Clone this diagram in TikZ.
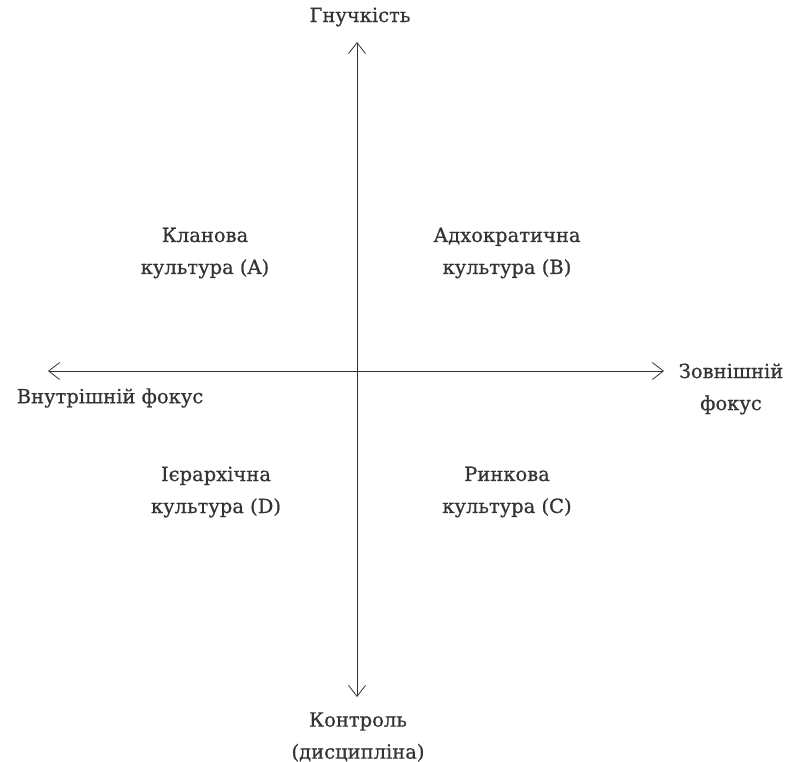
\documentclass[tikz,border=0pt]{standalone}
\usepackage{fontspec}
\setmainfont{DejaVu Serif}[UprightFeatures={FakeBold=0.7}]
\usetikzlibrary{positioning, arrows.meta}

\tikzset{
  axis/.style={draw=black!80, line width=0.8pt, {Straight Barb[length=11pt,width=17pt]}-{Straight Barb[length=11pt,width=17pt]}},
  label/.style={align=center, font=\fontsize{19.5}{32}\selectfont, text=black!80, inner sep=0pt}
}

\begin{document}
\begin{tikzpicture}[x=1pt, y=-1pt]
\useasboundingbox (0,0) rectangle (789,762);

% axis ends
\coordinate (top)    at (357,42);
\coordinate (bottom) at (357,697);
\coordinate (left)   at (48,371);
\coordinate (right)  at (664,371);

\draw[axis] (bottom) -- (top);
\draw[axis] (left) -- (right);

% axis labels
\node[label] (flex)  at (360,17)  {Гнучкість};
\node[label] (inner) at (110,398) {Внутрішній фокус};
\node[label] (outer) at (731,389) {Зовнішній\\фокус};
\node[label] (ctrl)  at (358,737) {Контроль\\(дисципліна)};

% quadrants
\node[label] (clan)  at (205,253) {Кланова\\культура (A)};
\node[label] (adhoc) at (507,253) {Адхократична\\культура (B)};
\node[label] (hier)  at (216,492) {Ієрархічна\\культура (D)};
\node[label] (mark)  at (507,492) {Ринкова\\культура (C)};
\end{tikzpicture}
\end{document}
